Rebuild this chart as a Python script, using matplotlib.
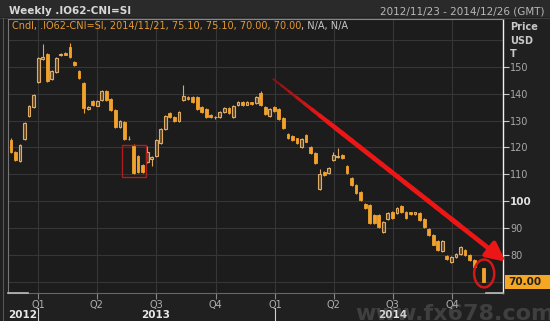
import numpy as np
import pandas as pd
import matplotlib
matplotlib.use('Agg')
import matplotlib.pyplot as plt
import matplotlib.dates as mdates
from matplotlib.patches import Rectangle, Ellipse
from matplotlib.collections import LineCollection
from matplotlib.colors import to_rgb

# weekly candles, friday dates (week 103 has no bar on the chart)
dates = pd.date_range('2012-11-23', periods=105, freq='7D')
nan = np.nan
opens = [122.8, 118.3, 114.9, 123.1, 131.7, 135.0, 144.4, 153.0, 154.9, 145.5,
         148.1, 154.5, 155.2, 157.5, 151.9, 148.5, 144.0, 134.3, 137.3, 135.6,
         137.7, 141.0, 138.0, 134.0, 127.6, 129.5, 123.3, 120.9, 116.8, 113.4,
         114.6, 115.8, 116.8, 121.6, 126.9, 132.8, 131.3, 129.9, 137.7, 138.9,
         138.9, 138.8, 135.2, 134.3, 132.1, 131.2, 131.3, 133.2, 134.7, 131.3,
         135.8, 136.9, 136.0, 136.8, 136.6, 140.3, 135.1, 131.7, 135.1, 134.3,
         131.0, 125.0, 124.3, 123.4, 120.2, 124.6, 120.1, 117.9, 104.5, 110.8,
         110.4, 115.3, 116.4, 117.2, 113.0, 108.6, 106.0, 103.4, 98.9, 98.5,
         94.8, 94.8, 88.4, 93.3, 95.9, 95.5, 98.1, 95.9, 95.8, 95.2,
         95.5, 93.5, 89.6, 87.5, 85.0, 81.3, 79.5, 77.2, 79.1, 80.2,
         81.7, 79.9, 78.0, nan, 75.1]
highs = [123.5, 118.8, 121.2, 129.4, 135.8, 139.9, 153.8, 158.6, 155.3, 148.8,
         153.7, 155.2, 155.5, 159.0, 152.2, 148.8, 144.3, 135.3, 137.6, 137.6,
         141.3, 141.3, 138.3, 134.3, 130.2, 129.8, 124.2, 121.2, 117.1, 113.7,
         120.5, 116.8, 123.1, 127.2, 132.0, 133.1, 131.6, 133.5, 143.3, 139.2,
         139.2, 139.1, 135.5, 134.6, 132.4, 131.6, 133.5, 135.0, 135.0, 135.7,
         137.2, 137.2, 137.3, 137.1, 139.2, 141.0, 135.4, 134.6, 135.4, 134.6,
         131.3, 125.3, 124.6, 123.7, 123.4, 124.9, 120.4, 118.2, 112.0, 111.1,
         112.6, 118.4, 119.8, 117.5, 113.3, 108.9, 106.3, 103.7, 99.2, 98.8,
         95.1, 95.1, 92.5, 95.8, 96.2, 97.7, 98.4, 96.2, 96.1, 96.1,
         95.8, 93.8, 89.9, 87.8, 85.3, 85.3, 79.8, 79.4, 80.5, 83.1,
         82.0, 80.2, 78.3, nan, 75.1]
lows = [118.0, 115.0, 114.6, 122.8, 131.4, 134.7, 144.0, 152.5, 144.5, 145.2,
        147.8, 154.2, 154.3, 153.4, 150.4, 145.6, 132.8, 134.0, 135.5, 135.3,
        137.4, 137.4, 133.7, 127.3, 127.3, 122.8, 122.6, 110.1, 110.5, 110.5,
        114.3, 113.0, 116.5, 121.3, 126.6, 131.0, 129.6, 129.6, 137.4, 137.7,
        136.7, 134.0, 133.0, 131.0, 131.0, 130.8, 131.0, 132.9, 132.5, 131.0,
        135.5, 135.5, 135.7, 135.9, 136.3, 135.5, 132.2, 131.4, 133.3, 130.3,
        126.9, 123.2, 122.5, 121.2, 119.9, 121.9, 117.6, 113.9, 104.2, 109.4,
        110.1, 115.0, 116.1, 115.7, 110.1, 105.7, 102.7, 100.1, 97.1, 91.5,
        91.5, 90.0, 88.1, 93.0, 93.4, 95.2, 95.6, 93.4, 94.9, 94.9,
        92.6, 89.9, 87.0, 83.5, 81.4, 81.0, 78.1, 76.9, 78.8, 79.9,
        79.6, 77.7, 75.1, nan, 70.0]
closes = [118.3, 115.3, 120.9, 129.1, 135.4, 139.6, 153.4, 153.7, 144.8, 148.5,
          153.4, 154.9, 154.6, 153.7, 150.7, 145.9, 134.7, 135.0, 135.8, 137.3,
          141.0, 137.7, 134.0, 127.6, 129.9, 123.1, 123.0, 110.4, 110.8, 110.8,
          118.3, 116.5, 122.8, 126.9, 131.7, 131.3, 129.9, 133.2, 139.2, 138.0,
          137.0, 134.3, 133.3, 131.3, 131.3, 131.5, 133.2, 134.7, 132.8, 135.4,
          136.9, 135.8, 137.0, 136.2, 138.9, 135.8, 132.5, 134.3, 133.6, 130.6,
          127.2, 123.5, 122.8, 121.5, 123.1, 122.2, 117.9, 114.2, 110.0, 109.7,
          112.3, 117.2, 117.0, 116.0, 110.4, 106.0, 103.0, 100.4, 97.4, 91.8,
          91.8, 90.3, 92.2, 95.5, 93.7, 97.4, 95.9, 93.7, 95.2, 95.8,
          92.9, 90.2, 87.3, 83.8, 81.7, 85.0, 78.4, 79.1, 80.2, 82.8,
          79.9, 78.0, 75.4, nan, 70.0]

price_ticks = [80, 90, 100, 110, 120, 130, 140, 150]
quarter_dates = pd.to_datetime(['2013-01-01', '2013-04-01', '2013-07-01', '2013-10-01',
                                '2014-01-01', '2014-04-01', '2014-07-01', '2014-10-01'])
quarter_labels = ['Q1', 'Q2', 'Q3', 'Q4', 'Q1', 'Q2', 'Q3', 'Q4']

W, H = 550, 321
fig = plt.figure(figsize=(5.5, 3.21), dpi=100, facecolor='#202020')
ax = fig.add_axes([8 / W, 1 - 292.5 / H, 495 / W, 274 / H])
ax.set_facecolor('#1c1c1c')


def fy(py):
    return 1 - py / H


# header bar
fig.add_artist(Rectangle((0, fy(17)), 1, 17 / H, transform=fig.transFigure,
                         facecolor='#2a2a2a', edgecolor='none', zorder=0))
fig.add_artist(plt.Line2D([0, 1], [fy(17.5), fy(17.5)], transform=fig.transFigure,
                          color='#3c3c3c', lw=0.8))
fig.add_artist(plt.Line2D([2.5 / W, 2.5 / W], [0, fy(17.5)], transform=fig.transFigure,
                          color='#555555', lw=0.8))

# candles
x = mdates.date2num(dates) - 3.5
o = np.array(opens)
h = np.array(highs)
lo = np.array(lows)
c = np.array(closes)
ok = ~np.isnan(o)
up = ok & (c >= o)
down = ok & (c < o)
ax.vlines(x[up], lo[up], h[up], color='#d9a862', lw=0.8, zorder=3)
ax.vlines(x[down], lo[down], h[down], color='#f2a22c', lw=0.8, zorder=3)
ax.bar(x[up], c[up] - o[up], bottom=o[up], width=4.3, facecolor='#5a4628',
       edgecolor='#dcac68', linewidth=0.8, zorder=4)
ax.bar(x[down], o[down] - c[down], bottom=c[down], width=4.3, facecolor='#f2a22c',
       edgecolor='#f2a22c', linewidth=0.6, zorder=4)

ax.set_xlim(mdates.date2num(pd.Timestamp('2012-11-15')), mdates.date2num(pd.Timestamp('2014-12-18')))
ax.set_ylim(65.9, 168.1)

# grid
for d in quarter_dates:
    ax.axvline(d, color='#363636', lw=0.8, zorder=1)
for v in range(70, 170, 10):
    ax.axhline(v, color='#363636', lw=0.8, zorder=1)

# axes look
ax.yaxis.tick_right()
ax.set_yticks(price_ticks)
ax.set_yticklabels([str(v) for v in price_ticks])
ax.tick_params(axis='y', colors='#c8c8c8', labelcolor='#a8a8a8', labelsize=7, length=4, width=0.8, pad=1)
for lab in ax.get_yticklabels():
    if lab.get_text() == '100':
        lab.set_fontweight('bold')
        lab.set_color('#e0e0e0')
        lab.set_fontsize(7.5)
ax.set_xticks(quarter_dates)
ax.set_xticklabels(quarter_labels)
ax.tick_params(axis='x', colors='#888888', labelcolor='#b0b0b0', labelsize=7, length=4, width=0.8, pad=1.5)
ax.spines['left'].set_color('#777777')
ax.spines['bottom'].set_color('#666666')
ax.spines['top'].set_color('#8a8a8a')
ax.spines['right'].set_color('#f0f0f0')
ax.spines['right'].set_linewidth(1.0)
for s in ['left', 'bottom', 'top']:
    ax.spines[s].set_linewidth(0.8)
# brighter ends of the bottom line
ax.plot([0, 0.04], [0, 0], transform=ax.transAxes, color='#bbbbbb', lw=1.2, clip_on=False, zorder=6)
ax.plot([0.965, 1.0], [0, 0], transform=ax.transAxes, color='#bbbbbb', lw=1.2, clip_on=False, zorder=6)

# year labels and separators
xt = ax.get_xaxis_transform()
jan13 = pd.Timestamp('2013-01-01')
jan14 = pd.Timestamp('2014-01-01')
ax.text(mdates.date2num(jan13) - 2.5, -0.082, '2012', transform=xt, ha='right', va='center',
        fontsize=7.5, fontweight='bold', color='#e8e8e8', clip_on=False)
ax.text(pd.Timestamp('2013-07-01'), -0.082, '2013', transform=xt, ha='center', va='center',
        fontsize=7.5, fontweight='bold', color='#e8e8e8', clip_on=False)
ax.text(pd.Timestamp('2014-07-01'), -0.082, '2014', transform=xt, ha='center', va='center',
        fontsize=7.5, fontweight='bold', color='#e8e8e8', clip_on=False, zorder=10)
for d in [jan13, jan14]:
    ax.plot([d, d], [-0.058, -0.11], transform=xt, color='#d0d0d0', lw=0.8, clip_on=False)

# header texts
fig.text(9 / W, fy(11), 'Weekly .IO62-CNI=SI', fontsize=7.5, fontweight='bold',
         color='#d8d8d8', va='center', ha='left')
fig.text(545 / W, fy(11), '2012/11/23 - 2014/12/26 (GMT)', fontsize=7.5,
         color='#b8b8b8', va='center', ha='right')
t1 = fig.text(12 / W, fy(26.5), 'Cndl, .IO62-CNI=SI, 2014/11/21, 75.10, 75.10, 70.00, 70.00',
              fontsize=7, color='#e39a38', va='center', ha='left')
ax.annotate(', N/A, N/A', xy=(1, 0.5), xycoords=t1, va='center', ha='left',
            fontsize=7, color='#c8c8c8', annotation_clip=False)

# price header
for txt, py in [('Price', 27), ('USD', 40.5), ('T', 54)]:
    fig.text(510 / W, fy(py), txt, fontsize=7, fontweight='bold', color='#c8c8c8',
             va='center', ha='left')

# last price box
fig.add_artist(Rectangle((505 / W, fy(289)), 45 / W, 14 / H, transform=fig.transFigure,
                         facecolor='#f5a623', edgecolor='none', zorder=5))
fig.text(508 / W, fy(282), '70.00', fontsize=7.5, fontweight='bold', color='#222222',
         va='center', ha='left', zorder=6)

# red trend arrow, thin and dark at the start, thick and bright soon after
a0 = np.array([mdates.date2num(pd.Timestamp('2013-12-29')), 145.5])
a1 = np.array([mdates.date2num(pd.Timestamp('2014-12-22')), 77.4])
t = np.linspace(0, 0.8, 25)
pts = a0 + t[:, None] * (a1 - a0)
segs = np.stack([pts[:-1], pts[1:]], axis=1)
k = np.linspace(0, 1, len(segs))
dark, bright = np.array(to_rgb('#8c1212')), np.array(to_rgb('#ec1616'))
cols = [tuple(dark + (bright - dark) * min(1, v * 4)) for v in k]
widths = [1.4 + 2.0 * min(1, v * 3) for v in k]
ax.add_collection(LineCollection(segs, linewidths=widths, colors=cols,
                                 capstyle='round', zorder=7, clip_on=False))
ax.annotate('', xy=tuple(a1), xytext=tuple(pts[-2]),
            arrowprops=dict(arrowstyle='-|>,head_length=1.1,head_width=0.55', color='#ec1616',
                            lw=3.4, shrinkA=0, shrinkB=0),
            annotation_clip=False, zorder=7)
ax.add_patch(Ellipse((mdates.date2num(pd.Timestamp('2014-11-19')), 73.0), 31, 10.4,
                     facecolor='none', edgecolor='#d41818', lw=1.8, zorder=7, clip_on=False))
r0 = mdates.date2num(pd.Timestamp('2013-05-10'))
r1 = mdates.date2num(pd.Timestamp('2013-06-15'))
ax.add_patch(Rectangle((r0, 109.1), r1 - r0, 11.9, facecolor='none', edgecolor='#b01c1c',
                       lw=1.0, zorder=7))

# watermark
fig.text(455 / W, fy(314), 'www.fx678.com', fontsize=16, fontweight='bold', color='#8a8a8a',
         alpha=0.3, va='center', ha='center', zorder=1)

fig.savefig('out.png', dpi=100, facecolor=fig.get_facecolor())
